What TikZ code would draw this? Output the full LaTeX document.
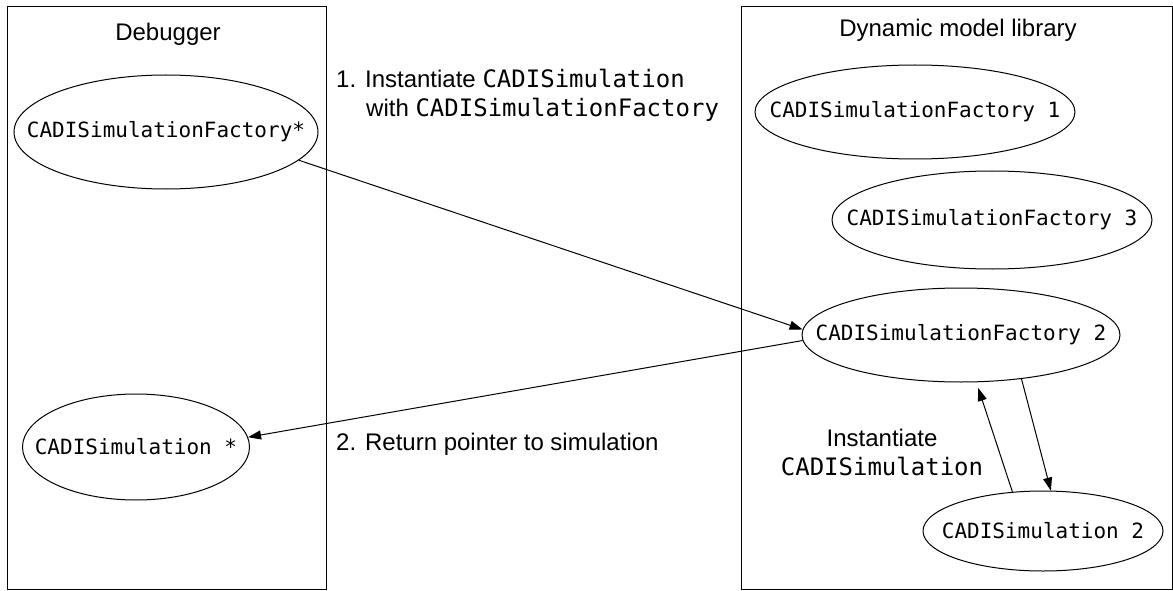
\documentclass[tikz,border=0pt]{standalone}
\usepackage{fontspec}
\setmainfont{Liberation Sans}
\newfontfamily\monof{DejaVu Sans Mono}
\usetikzlibrary{shapes.geometric,arrows.meta}
\tikzset{
  ell/.style={ellipse, draw, line width=1pt, inner sep=0pt, font=\monof\fontsize{21}{25}\selectfont},
  lbl/.style={inner sep=0pt, font=\fontsize{24}{29}\selectfont},
  frame/.style={draw, line width=1pt},
  arr/.style={line width=1pt, -{Triangle[length=13pt,width=9pt]}},
}
\newcommand{\mz}[1]{\makebox[0pt]{#1}}
\begin{document}
\begin{tikzpicture}[x=1pt,y=-1pt]
\useasboundingbox (0,0) rectangle (1173,591);
% containers
\draw[frame] (7,7) rectangle (326,589);
\draw[frame] (741,7) rectangle (1172,589);
\node[lbl, anchor=base] (tdbg) at (168,41) {Debugger};
\node[lbl, anchor=base] (tlib) at (958,37) {Dynamic model library};
% ellipses
\node[ell, minimum width=304pt, minimum height=114pt] (fs) at (166,132) {\mz{CADISimulationFactory*}};
\node[ell, minimum width=227pt, minimum height=106pt] (sim) at (136,447) {\mz{CADISimulation *}};
\node[ell, minimum width=320pt, minimum height=94pt] (f1) at (915,112) {\mz{CADISimulationFactory 1}};
\node[ell, minimum width=320pt, minimum height=98pt] (f3) at (992,220) {\mz{CADISimulationFactory 3}};
\node[ell, minimum width=318pt, minimum height=94pt] (f2) at (961,335) {\mz{CADISimulationFactory 2}};
\node[ell, minimum width=240pt, minimum height=80pt] (s2) at (1043,531) {\mz{CADISimulation 2}};
% arrows
\draw[arr] (fs.-12) -- (f2.178);
\draw[arr] (f2.182) -- (sim.5);
\draw[arr] (f2.-36) -- (s2.79);
\draw[arr, shorten >=6pt] (s2.128) -- (f2.-72);
% labels
\node[lbl, anchor=base west, align=left] (l1) at (336,117) {1. Instantiate {\monof CADISimulation}\\\hspace*{30pt}with {\monof CADISimulationFactory}};
\node[lbl, anchor=base west] (l2) at (336,450) {2. Return pointer to simulation};
\node[lbl, anchor=base, align=center] (l3) at (882,475) {Instantiate\\{\monof CADISimulation}};
\end{tikzpicture}
\end{document}
